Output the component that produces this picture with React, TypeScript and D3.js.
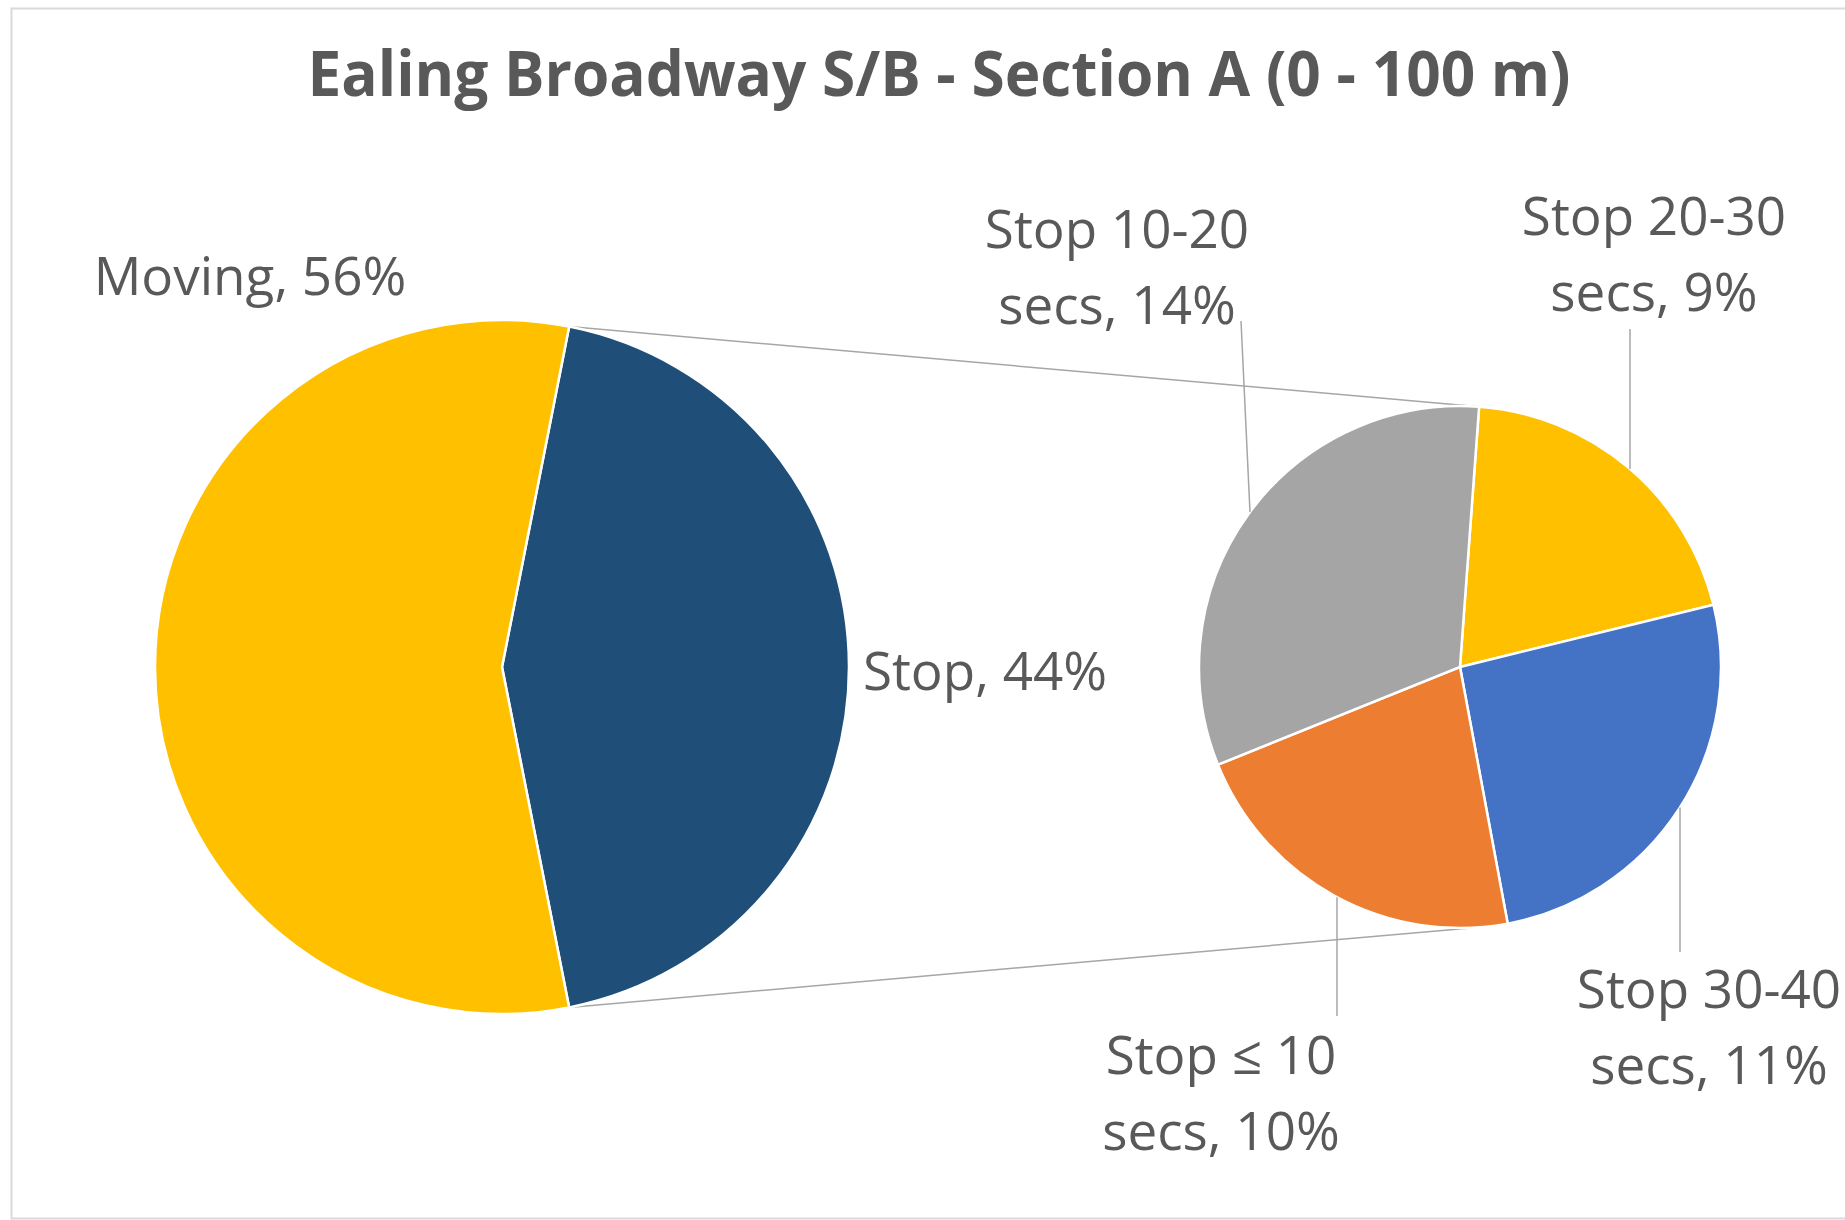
import { useMemo } from "react";
import * as d3 from "d3";

// chart data (shares; labels show rounded values)
const mainCategories = ["Stop", "Moving"];
const mainValues = [43.8, 56.2];
const mainColors = ["#1F4E79", "#FFC000"];

const subCategories = ["Stop 20-30 secs", "Stop 30-40 secs", "Stop \u2264 10 secs", "Stop 10-20 secs"];
const subValues = [8.8, 11.4, 9.6, 14.2];
const subColors = ["#FFC000", "#4472C4", "#ED7D31", "#A5A5A5"];

const title = "Ealing Broadway S/B - Section A (0 - 100 m)";

// label text lines
const mainLabels = [["Stop, 44%"], ["Moving, 56%"]];
const subLabels = [
  ["Stop 20-30", "secs, 9%"],
  ["Stop 30-40", "secs, 11%"],
  ["Stop \u2264 10", "secs, 10%"],
  ["Stop 10-20", "secs, 14%"],
];

const W = 1845;
const H = 1220;
const main = { cx: 502, cy: 667, r: 347 };
const sub = { cx: 1460, cy: 667, r: 261 };
const subStart = (4.2 * Math.PI) / 180;
const lineGap = 76;
const textColor = "#595959";
const font = "'Open Sans', 'Noto Sans', sans-serif";

// label placement (centre x, first baseline) and leader lines
const mainLabelPos = [
  { x: 985, y: 690 },
  { x: 250, y: 295 },
];
const subLabelPos = [
  { x: 1654, y: 235, lx: 1630, ly: 329, ex: 1630 },
  { x: 1709, y: 1008, lx: 1680, ly: 952, ex: 1680 },
  { x: 1221, y: 1074, lx: 1337, ly: 1016, ex: 1337 },
  { x: 1117, y: 248, lx: 1241, ly: 321, ex: 1250 },
];

export default function App() {
  const mainArcs = useMemo(() => {
    const frac = mainValues[0] / d3.sum(mainValues);
    const start = Math.PI / 2 - frac * Math.PI;
    return d3
      .pie<number>()
      .sort(null)
      .startAngle(start)
      .endAngle(start + 2 * Math.PI)(mainValues);
  }, []);

  const subArcs = useMemo(
    () =>
      d3
        .pie<number>()
        .sort(null)
        .startAngle(subStart)
        .endAngle(subStart + 2 * Math.PI)(subValues),
    []
  );

  const mainArc = d3.arc<d3.PieArcDatum<number>>().innerRadius(0).outerRadius(main.r);
  const subArc = d3.arc<d3.PieArcDatum<number>>().innerRadius(0).outerRadius(sub.r);

  // connector lines: edges of the "Stop" slice to top / bottom of the second pie
  const stop = mainArcs[0];
  const pt = (c: any, a: number) => [c.cx + c.r * Math.sin(a), c.cy - c.r * Math.cos(a)];
  const [ax1, ay1] = pt(main, stop.startAngle);
  const [ax2, ay2] = pt(main, stop.endAngle);
  const [bx1, by1] = pt(sub, subStart);
  const [bx2, by2] = pt(sub, Math.PI - (3 * Math.PI) / 180);

  const circleY = (x: number, top: boolean) => {
    const dx = x - sub.cx;
    const dy = Math.sqrt(Math.max(0, sub.r * sub.r - dx * dx));
    return top ? sub.cy - dy : sub.cy + dy;
  };

  return (
    <div style={{ position: "absolute", left: 0, top: 0 }}>
      <svg width={W} height={H} style={{ display: "block", background: "#fff" }}>
        <path
          d={`M${W + 5},8.5 H11.5 V1218.5 H${W + 5}`}
          fill="none"
          stroke="#d9d9d9"
          strokeWidth={2}
        />
        <text
          x={939}
          y={96}
          textAnchor="middle"
          fontFamily={font}
          fontWeight="bold"
          fontSize={62}
          fill={textColor}
          textLength={1263}
          lengthAdjust="spacingAndGlyphs"
        >
          {title}
        </text>

        <line x1={ax1} y1={ay1} x2={bx1} y2={by1} stroke="#a6a6a6" strokeWidth={1.5} />
        <line x1={ax2} y1={ay2} x2={bx2} y2={by2} stroke="#a6a6a6" strokeWidth={1.5} />

        <g transform={`translate(${main.cx},${main.cy})`}>
          {mainArcs.map((a, i) => (
            <path key={mainCategories[i]} d={mainArc(a) || ""} fill={mainColors[i]} stroke="#fff" strokeWidth={2.5} />
          ))}
        </g>
        <g transform={`translate(${sub.cx},${sub.cy})`}>
          {subArcs.map((a, i) => (
            <path key={subCategories[i]} d={subArc(a) || ""} fill={subColors[i]} stroke="#fff" strokeWidth={2.5} />
          ))}
        </g>

        {subLabelPos.map((p, i) => (
          <line
            key={"leader" + i}
            x1={p.lx}
            y1={p.ly}
            x2={p.ex}
            y2={circleY(p.ex, p.ly < sub.cy)}
            stroke="#a6a6a6"
            strokeWidth={1.5}
          />
        ))}

        {mainLabels.map((lines, i) =>
          lines.map((t, j) => (
            <text
              key={"m" + i + j}
              x={mainLabelPos[i].x}
              y={mainLabelPos[i].y + j * lineGap}
              textAnchor="middle"
              fontFamily={font}
              fontSize={53}
              fill={textColor}
            >
              {t}
            </text>
          ))
        )}
        {subLabels.map((lines, i) =>
          lines.map((t, j) => (
            <text
              key={"s" + i + j}
              x={subLabelPos[i].x}
              y={subLabelPos[i].y + j * lineGap}
              textAnchor="middle"
              fontFamily={font}
              fontSize={53}
              fill={textColor}
            >
              {t}
            </text>
          ))
        )}
      </svg>
    </div>
  );
}
